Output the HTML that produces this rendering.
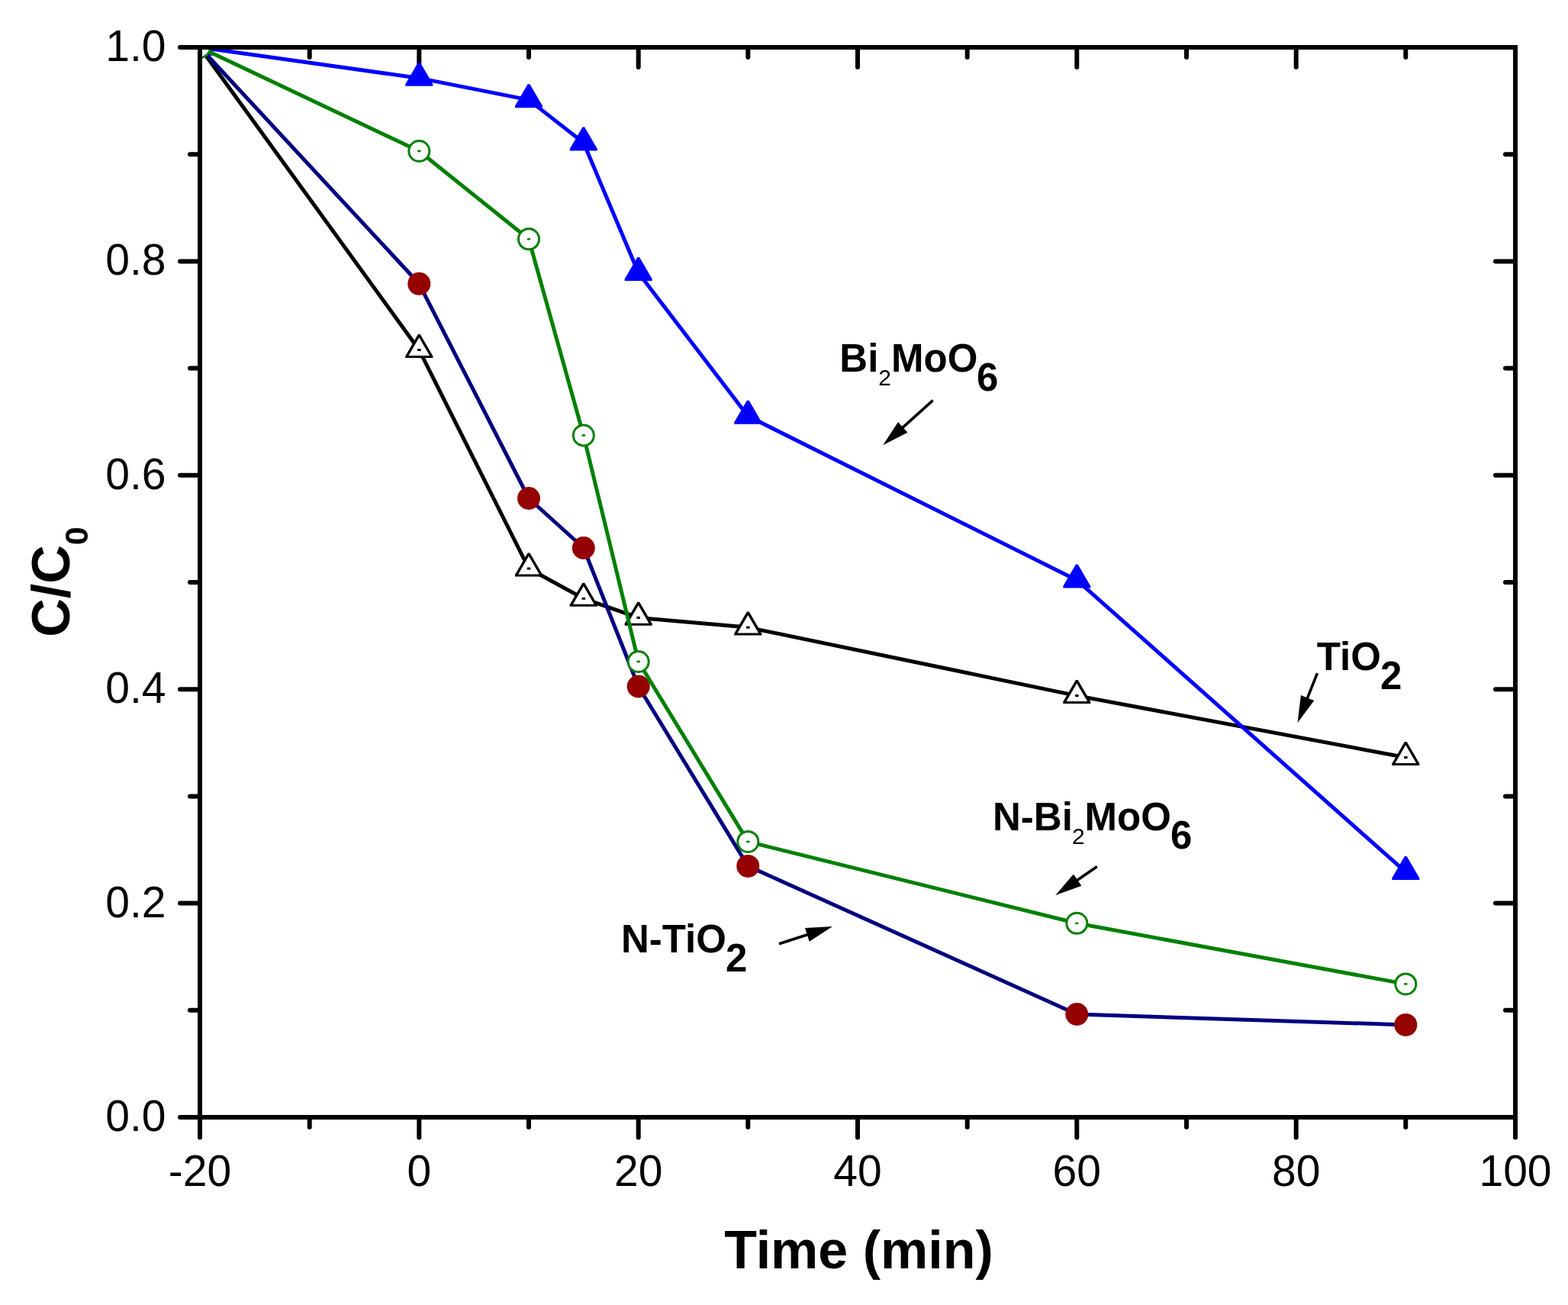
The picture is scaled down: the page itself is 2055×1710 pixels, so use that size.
<!DOCTYPE html><html><head><meta charset="utf-8"><title>C/C0 vs Time</title><style>html,body{margin:0;padding:0;background:#fff;}svg{display:block;}</style></head><body><svg width="2055" height="1710" viewBox="0 0 2055 1710"><defs><clipPath id="pa"><rect x="265" y="65" width="1718" height="1396"/></clipPath></defs><rect width="2055" height="1710" fill="#fff"/><g stroke="#000" stroke-width="6" fill="none"><path d="M262 62 H1986 V1464 H262 Z" stroke-linejoin="miter"/></g><g stroke="#000" stroke-width="6" stroke-linecap="round"><line x1="236" y1="1464" x2="262" y2="1464"/><line x1="1986" y1="1464" x2="1960" y2="1464"/><line x1="249" y1="1323.8" x2="262" y2="1323.8"/><line x1="1986" y1="1323.8" x2="1973" y2="1323.8"/><line x1="236" y1="1183.6" x2="262" y2="1183.6"/><line x1="1986" y1="1183.6" x2="1960" y2="1183.6"/><line x1="249" y1="1043.4" x2="262" y2="1043.4"/><line x1="1986" y1="1043.4" x2="1973" y2="1043.4"/><line x1="236" y1="903.2" x2="262" y2="903.2"/><line x1="1986" y1="903.2" x2="1960" y2="903.2"/><line x1="249" y1="763" x2="262" y2="763"/><line x1="1986" y1="763" x2="1973" y2="763"/><line x1="236" y1="622.8" x2="262" y2="622.8"/><line x1="1986" y1="622.8" x2="1960" y2="622.8"/><line x1="249" y1="482.6" x2="262" y2="482.6"/><line x1="1986" y1="482.6" x2="1973" y2="482.6"/><line x1="236" y1="342.4" x2="262" y2="342.4"/><line x1="1986" y1="342.4" x2="1960" y2="342.4"/><line x1="249" y1="202.2" x2="262" y2="202.2"/><line x1="1986" y1="202.2" x2="1973" y2="202.2"/><line x1="236" y1="62" x2="262" y2="62"/><line x1="1986" y1="62" x2="1960" y2="62"/><line x1="262" y1="1464" x2="262" y2="1490.5"/><line x1="262" y1="62" x2="262" y2="88"/><line x1="405.7" y1="1464" x2="405.7" y2="1477"/><line x1="405.7" y1="62" x2="405.7" y2="75"/><line x1="549.3" y1="1464" x2="549.3" y2="1490.5"/><line x1="549.3" y1="62" x2="549.3" y2="88"/><line x1="693" y1="1464" x2="693" y2="1477"/><line x1="693" y1="62" x2="693" y2="75"/><line x1="836.7" y1="1464" x2="836.7" y2="1490.5"/><line x1="836.7" y1="62" x2="836.7" y2="88"/><line x1="980.3" y1="1464" x2="980.3" y2="1477"/><line x1="980.3" y1="62" x2="980.3" y2="75"/><line x1="1124" y1="1464" x2="1124" y2="1490.5"/><line x1="1124" y1="62" x2="1124" y2="88"/><line x1="1267.7" y1="1464" x2="1267.7" y2="1477"/><line x1="1267.7" y1="62" x2="1267.7" y2="75"/><line x1="1411.3" y1="1464" x2="1411.3" y2="1490.5"/><line x1="1411.3" y1="62" x2="1411.3" y2="88"/><line x1="1555" y1="1464" x2="1555" y2="1477"/><line x1="1555" y1="62" x2="1555" y2="75"/><line x1="1698.7" y1="1464" x2="1698.7" y2="1490.5"/><line x1="1698.7" y1="62" x2="1698.7" y2="88"/><line x1="1842.3" y1="1464" x2="1842.3" y2="1477"/><line x1="1842.3" y1="62" x2="1842.3" y2="75"/><line x1="1986" y1="1464" x2="1986" y2="1490.5"/><line x1="1986" y1="62" x2="1986" y2="88"/></g><g clip-path="url(#pa)"><polyline points="262,62 549.3,458.5 693,745 764.8,784.3 836.7,809.4 980.3,822.1 1411.3,911.6 1842.3,992.5" fill="none" stroke="#000" stroke-width="5" stroke-linejoin="round"/><polygon points="260.6,41.4 263.4,41.4 280,69.9 280,72.4 244,72.4 244,69.9" fill="#000"/><polygon points="262,45.8 248.2,69.4 275.8,69.4" fill="#fff"/><rect x="259.8" y="60.5" width="4.5" height="3" fill="#000"/><polygon points="547.9,437.9 550.7,437.9 567.3,466.4 567.3,468.9 531.3,468.9 531.3,466.4" fill="#000"/><polygon points="549.3,442.3 535.5,465.9 563.1,465.9" fill="#fff"/><rect x="547.1" y="457" width="4.5" height="3" fill="#000"/><polygon points="691.6,724.4 694.4,724.4 711,752.9 711,755.4 675,755.4 675,752.9" fill="#000"/><polygon points="693,728.8 679.2,752.4 706.8,752.4" fill="#fff"/><rect x="690.8" y="743.5" width="4.5" height="3" fill="#000"/><polygon points="763.4,763.7 766.2,763.7 782.8,792.2 782.8,794.7 746.8,794.7 746.8,792.2" fill="#000"/><polygon points="764.8,768.1 751,791.7 778.6,791.7" fill="#fff"/><rect x="762.6" y="782.8" width="4.5" height="3" fill="#000"/><polygon points="835.3,788.8 838.1,788.8 854.7,817.3 854.7,819.8 818.7,819.8 818.7,817.3" fill="#000"/><polygon points="836.7,793.2 822.9,816.8 850.5,816.8" fill="#fff"/><rect x="834.4" y="807.9" width="4.5" height="3" fill="#000"/><polygon points="978.9,801.5 981.7,801.5 998.3,830 998.3,832.5 962.3,832.5 962.3,830" fill="#000"/><polygon points="980.3,805.9 966.5,829.5 994.1,829.5" fill="#fff"/><rect x="978.1" y="820.6" width="4.5" height="3" fill="#000"/><polygon points="1409.9,891 1412.7,891 1429.3,919.5 1429.3,922 1393.3,922 1393.3,919.5" fill="#000"/><polygon points="1411.3,895.4 1397.5,919 1425.1,919" fill="#fff"/><rect x="1409.1" y="910.1" width="4.5" height="3" fill="#000"/><polygon points="1840.9,971.9 1843.7,971.9 1860.3,1000.4 1860.3,1002.9 1824.3,1002.9 1824.3,1000.4" fill="#000"/><polygon points="1842.3,976.3 1828.5,999.9 1856.1,999.9" fill="#fff"/><rect x="1840.1" y="991" width="4.5" height="3" fill="#000"/><polyline points="262,62 549.3,371.8 693,653 764.8,718 836.7,899.5 980.3,1134.9 1411.3,1329 1842.3,1342.9" fill="none" stroke="#000080" stroke-width="5" stroke-linejoin="round"/><circle cx="262" cy="62" r="15" fill="#950000"/><circle cx="549.3" cy="371.8" r="15" fill="#950000"/><circle cx="693" cy="653" r="15" fill="#950000"/><circle cx="764.8" cy="718" r="15" fill="#950000"/><circle cx="836.7" cy="899.5" r="15" fill="#950000"/><circle cx="980.3" cy="1134.9" r="15" fill="#950000"/><circle cx="1411.3" cy="1329" r="15" fill="#950000"/><circle cx="1842.3" cy="1342.9" r="15" fill="#950000"/><polyline points="262,62 549.3,102.4 693,130.9 764.8,187 836.7,357.5 980.3,545.3 1411.3,760.2 1842.3,1142.6" fill="none" stroke="#0000ff" stroke-width="5" stroke-linejoin="round"/><polygon points="260.6,41.4 263.4,41.4 280,69.9 280,72.4 244,72.4 244,69.9" fill="#0000ff"/><polygon points="547.9,81.8 550.7,81.8 567.3,110.3 567.3,112.8 531.3,112.8 531.3,110.3" fill="#0000ff"/><polygon points="691.6,110.3 694.4,110.3 711,138.8 711,141.3 675,141.3 675,138.8" fill="#0000ff"/><polygon points="763.4,166.4 766.2,166.4 782.8,194.9 782.8,197.4 746.8,197.4 746.8,194.9" fill="#0000ff"/><polygon points="835.3,336.9 838.1,336.9 854.7,365.4 854.7,367.9 818.7,367.9 818.7,365.4" fill="#0000ff"/><polygon points="978.9,524.7 981.7,524.7 998.3,553.2 998.3,555.7 962.3,555.7 962.3,553.2" fill="#0000ff"/><polygon points="1409.9,739.6 1412.7,739.6 1429.3,768.1 1429.3,770.6 1393.3,770.6 1393.3,768.1" fill="#0000ff"/><polygon points="1840.9,1122 1843.7,1122 1860.3,1150.5 1860.3,1153 1824.3,1153 1824.3,1150.5" fill="#0000ff"/><polyline points="262,62 549.3,198 693,313.3 764.8,570.5 836.7,867 980.3,1102.9 1411.3,1209.8 1842.3,1289.4" fill="none" stroke="#008000" stroke-width="5" stroke-linejoin="round"/><circle cx="262" cy="62" r="13.5" fill="#fff" stroke="#008000" stroke-width="3"/><ellipse cx="262" cy="62" rx="2.5" ry="1.4" fill="#008000"/><circle cx="549.3" cy="198" r="13.5" fill="#fff" stroke="#008000" stroke-width="3"/><ellipse cx="549.3" cy="198" rx="2.5" ry="1.4" fill="#008000"/><circle cx="693" cy="313.3" r="13.5" fill="#fff" stroke="#008000" stroke-width="3"/><ellipse cx="693" cy="313.3" rx="2.5" ry="1.4" fill="#008000"/><circle cx="764.8" cy="570.5" r="13.5" fill="#fff" stroke="#008000" stroke-width="3"/><ellipse cx="764.8" cy="570.5" rx="2.5" ry="1.4" fill="#008000"/><circle cx="836.7" cy="867" r="13.5" fill="#fff" stroke="#008000" stroke-width="3"/><ellipse cx="836.7" cy="867" rx="2.5" ry="1.4" fill="#008000"/><circle cx="980.3" cy="1102.9" r="13.5" fill="#fff" stroke="#008000" stroke-width="3"/><ellipse cx="980.3" cy="1102.9" rx="2.5" ry="1.4" fill="#008000"/><circle cx="1411.3" cy="1209.8" r="13.5" fill="#fff" stroke="#008000" stroke-width="3"/><ellipse cx="1411.3" cy="1209.8" rx="2.5" ry="1.4" fill="#008000"/><circle cx="1842.3" cy="1289.4" r="13.5" fill="#fff" stroke="#008000" stroke-width="3"/><ellipse cx="1842.3" cy="1289.4" rx="2.5" ry="1.4" fill="#008000"/></g><g font-family="'Liberation Sans', Arial, sans-serif" font-size="57" fill="#000"><text x="217.5" y="1482" text-anchor="end">0.0</text><text x="217.5" y="1201.6" text-anchor="end">0.2</text><text x="217.5" y="921.2" text-anchor="end">0.4</text><text x="217.5" y="640.8" text-anchor="end">0.6</text><text x="217.5" y="360.4" text-anchor="end">0.8</text><text x="217.5" y="80" text-anchor="end">1.0</text><text x="262" y="1554" text-anchor="middle">-20</text><text x="549.3" y="1554" text-anchor="middle">0</text><text x="836.7" y="1554" text-anchor="middle">20</text><text x="1124" y="1554" text-anchor="middle">40</text><text x="1411.3" y="1554" text-anchor="middle">60</text><text x="1698.7" y="1554" text-anchor="middle">80</text><text x="1986" y="1554" text-anchor="middle">100</text></g><text font-family="'Liberation Sans', Arial, sans-serif" font-weight="bold" font-size="70" x="1125.5" y="1662" text-anchor="middle">Time (min)</text><g transform="translate(90.8 834.7) rotate(-90)"><text font-family="'Liberation Sans', Arial, sans-serif" font-weight="bold" font-size="70" x="0" y="0">C/C<tspan font-size="43" dy="24">0</tspan></text></g><line x1="1222.6" y1="524.6" x2="1181.8" y2="561.3" stroke="#000" stroke-width="3.6"/><polygon points="1157.2,583.3 1177,553 1189.5,566.8" fill="#000"/><line x1="1726.4" y1="882.2" x2="1712.8" y2="916.3" stroke="#000" stroke-width="3.6"/><polygon points="1700.6,947 1704.9,911 1722.2,917.9" fill="#000"/><line x1="1437.8" y1="1135.4" x2="1410.5" y2="1154.2" stroke="#000" stroke-width="3.6"/><polygon points="1383.3,1172.9 1406.9,1145.4 1417.4,1160.7" fill="#000"/><line x1="1021" y1="1236.8" x2="1059.7" y2="1224.3" stroke="#000" stroke-width="3.6"/><polygon points="1091.1,1214.1 1060.7,1233.7 1054.9,1216" fill="#000"/><text font-family="'Liberation Sans', Arial, sans-serif" font-weight="bold" font-size="51" x="1100.3" y="487">Bi</text><text font-family="'Liberation Sans', Arial, sans-serif" font-size="30" x="1151.3" y="505">2</text><text font-family="'Liberation Sans', Arial, sans-serif" font-weight="bold" font-size="51" x="1168" y="487">MoO</text><text font-family="'Liberation Sans', Arial, sans-serif" font-weight="bold" font-size="51" x="1280" y="511.7">6</text><text font-family="'Liberation Sans', Arial, sans-serif" font-weight="bold" font-size="51" x="1725.8" y="877.8">TiO</text><text font-family="'Liberation Sans', Arial, sans-serif" font-weight="bold" font-size="51" x="1809" y="902.8">2</text><text font-family="'Liberation Sans', Arial, sans-serif" font-weight="bold" font-size="51" x="1301" y="1088">N-Bi</text><text font-family="'Liberation Sans', Arial, sans-serif" font-size="30" x="1405" y="1106">2</text><text font-family="'Liberation Sans', Arial, sans-serif" font-weight="bold" font-size="51" x="1421.5" y="1088">MoO</text><text font-family="'Liberation Sans', Arial, sans-serif" font-weight="bold" font-size="51" x="1534" y="1111.5">6</text><text font-family="'Liberation Sans', Arial, sans-serif" font-weight="bold" font-size="51" x="814" y="1248.1">N-TiO</text><text font-family="'Liberation Sans', Arial, sans-serif" font-weight="bold" font-size="51" x="951" y="1273">2</text></svg></body></html>
